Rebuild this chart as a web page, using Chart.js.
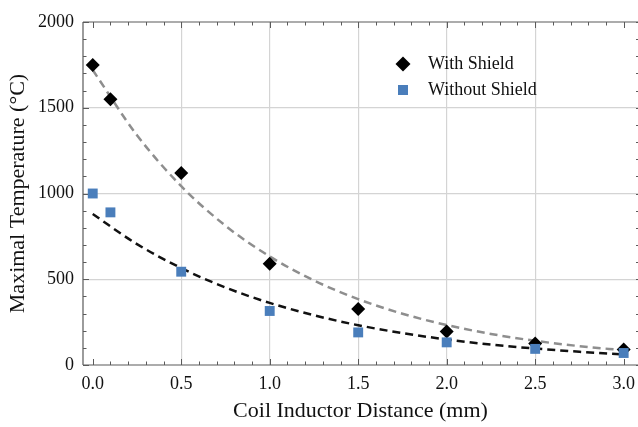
<!DOCTYPE html>
<html>
<head>
<meta charset="utf-8">
<script src="https://cdn.jsdelivr.net/npm/chart.js@4.4.1/dist/chart.umd.min.js"></script>
<style>
  html, body { margin: 0; padding: 0; background: #ffffff; overflow: hidden; }
  #wrap { width: 638px; height: 427px; }
  canvas { display: block; }
</style>
</head>
<body>
<div id="wrap">
  <canvas id="myChart" width="638" height="427"></canvas>
</div>
<script>
// ----- data -----
const distances     = [0, 0.1, 0.5, 1.0, 1.5, 2.0, 2.5, 3.0];
const withShield    = [1750, 1550, 1120, 590, 327, 195, 125, 90];
const withoutShield = [1000, 890, 544, 315, 190, 132, 94, 70];

// fitted trend curves
const fitX          = [0, 0.25, 0.5, 0.75, 1.0, 1.25, 1.5, 1.75, 2.0, 2.25, 2.5, 2.75, 3.0];
const fitWith       = [1720, 1340, 1043, 812, 633, 493, 384, 299, 233, 181, 141, 110, 86];
const fitWithout    = [880, 705, 565, 452, 362, 290, 232, 186, 149, 119, 96, 77, 61];

const xTicks = [0, 0.5, 1.0, 1.5, 2.0, 2.5, 3.0];
const yTicks = [0, 500, 1000, 1500, 2000];
const seriesNames = ['With Shield', 'Without Shield'];

const BLUE = '#4a7ebb';
const FRAME = '#5a5a5a';
const GRID = '#d4d4d4';
const SERIF = '"Liberation Serif", "Times New Roman", serif';

function pts(xs, ys) {
    return xs.map((x, i) => ({ x: x, y: ys[i] }));
}

// frame with inward ticks on all four sides (Mathematica style)
const frameTicks = {
    id: 'frameTicks',
    beforeDatasetsDraw(chart) {
        const ctx = chart.ctx;
        const a = chart.chartArea;
        const xs = chart.scales.x, ys = chart.scales.y;
        ctx.save();
        ctx.strokeStyle = FRAME;
        ctx.lineWidth = 1.2;
        ctx.beginPath();
        ctx.moveTo(a.left, a.top); ctx.lineTo(a.right, a.top);
        ctx.moveTo(a.left, a.top); ctx.lineTo(a.left, a.bottom);
        ctx.moveTo(a.left, a.bottom); ctx.lineTo(a.right, a.bottom);
        ctx.stroke();

        ctx.lineWidth = 1;
        ctx.beginPath();
        for (let i = 0; i <= 30; i++) {
            const v = i / 10;
            const px = Math.round(xs.getPixelForValue(v)) + 0.5;
            const len = (i % 5 === 0) ? 6 : 3.5;
            ctx.moveTo(px, a.bottom); ctx.lineTo(px, a.bottom - len);
            ctx.moveTo(px, a.top); ctx.lineTo(px, a.top + len);
        }
        for (let i = 0; i <= 20; i++) {
            const v = i * 100;
            const py = Math.round(ys.getPixelForValue(v)) + 0.5;
            const len = (i % 5 === 0) ? 6 : 3.5;
            ctx.moveTo(a.left, py); ctx.lineTo(a.left + len, py);
            ctx.moveTo(a.right + 1, py); ctx.lineTo(a.right - 2, py);
        }
        ctx.stroke();
        ctx.restore();
    }
};

// legend inside the plot
const innerLegend = {
    id: 'innerLegend',
    afterDraw(chart) {
        const ctx = chart.ctx;
        const a = chart.chartArea;
        const mx = a.left + 320, my = a.top + 42, gap = 26;
        ctx.save();
        // diamond
        ctx.fillStyle = '#000';
        ctx.beginPath();
        ctx.moveTo(mx - 7.5, my); ctx.lineTo(mx, my - 7.5);
        ctx.lineTo(mx + 7.5, my); ctx.lineTo(mx, my + 7.5);
        ctx.closePath();
        ctx.fill();
        // square
        ctx.fillStyle = BLUE;
        ctx.fillRect(mx - 5, my + gap - 5, 10, 10);

        ctx.fillStyle = '#111';
        ctx.font = '18px ' + SERIF;
        ctx.textBaseline = 'middle';
        ctx.textAlign = 'left';
        ctx.fillText(seriesNames[0], mx + 25, my);
        ctx.fillText(seriesNames[1], mx + 25, my + gap);
        ctx.restore();
    }
};

const data = {
    datasets: [
        {
            label: seriesNames[0],
            data: pts(distances, withShield),
            pointStyle: 'rectRot',
            pointRadius: 7,
            pointHoverRadius: 7,
            backgroundColor: '#000',
            borderColor: '#000',
            borderWidth: 0,
            showLine: false,
            order: 1
        },
        {
            label: seriesNames[1],
            data: pts(distances, withoutShield),
            pointStyle: 'rect',
            pointRadius: 7,
            pointHoverRadius: 7,
            backgroundColor: BLUE,
            borderColor: BLUE,
            borderWidth: 0,
            showLine: false,
            order: 0
        },
        {
            label: seriesNames[0] + ' fit',
            data: pts(fitX, fitWith),
            showLine: true,
            pointRadius: 0,
            borderColor: '#8e8e8e',
            borderWidth: 2.5,
            borderDash: [8, 5],
            cubicInterpolationMode: 'monotone',
            order: 3
        },
        {
            label: seriesNames[1] + ' fit',
            data: pts(fitX, fitWithout),
            showLine: true,
            pointRadius: 0,
            borderColor: '#111',
            borderWidth: 2.5,
            borderDash: [8, 5],
            cubicInterpolationMode: 'monotone',
            order: 2
        }
    ]
};

const config = {
    type: 'scatter',
    data,
    options: {
        responsive: false,
        animation: false,
        layout: { autoPadding: false, padding: { top: 22, right: 0, left: 0, bottom: 0 } },
        plugins: {
            legend: { display: false },
            tooltip: { enabled: false }
        },
        scales: {
            x: {
                type: 'linear',
                min: -0.055,
                max: 3.081,
                afterBuildTicks: (s) => { s.ticks = xTicks.map(v => ({ value: v })); },
                afterFit: (s) => { s.height = 62; s.paddingLeft = 0; s.paddingRight = 0; },
                border: { display: false },
                grid: {
                    drawTicks: false,
                    lineWidth: 1.2,
                    color: (c) => (c.tick && (c.tick.value === 0 || c.tick.value === 3)) ? 'rgba(0,0,0,0)' : GRID
                },
                ticks: {
                    padding: 8,
                    color: '#111',
                    font: { family: SERIF, size: 18 },
                    maxRotation: 0,
                    callback: (v) => Number(v).toFixed(1)
                },
                title: {
                    display: true,
                    text: 'Coil Inductor Distance (mm)',
                    color: '#111',
                    font: { family: SERIF, size: 22 },
                    padding: { top: 0, bottom: 3 }
                }
            },
            y: {
                type: 'linear',
                min: 0,
                max: 2000,
                afterBuildTicks: (s) => { s.ticks = yTicks.map(v => ({ value: v })); },
                afterFit: (s) => { s.width = 83; },
                border: { display: false },
                grid: {
                    drawTicks: false,
                    lineWidth: 1.2,
                    color: (c) => (c.tick && (c.tick.value === 0 || c.tick.value === 2000)) ? 'rgba(0,0,0,0)' : GRID
                },
                ticks: {
                    padding: 9,
                    color: '#111',
                    font: { family: SERIF, size: 18 },
                    callback: (v) => String(v)
                },
                title: {
                    display: true,
                    text: 'Maximal Temperature (°C)',
                    color: '#111',
                    font: { family: SERIF, size: 22 },
                    padding: { top: 5, bottom: 0 }
                }
            }
        }
    },
    plugins: [frameTicks, innerLegend]
};

const myChart = new Chart(document.getElementById('myChart').getContext('2d'), config);
</script>
</body>
</html>
